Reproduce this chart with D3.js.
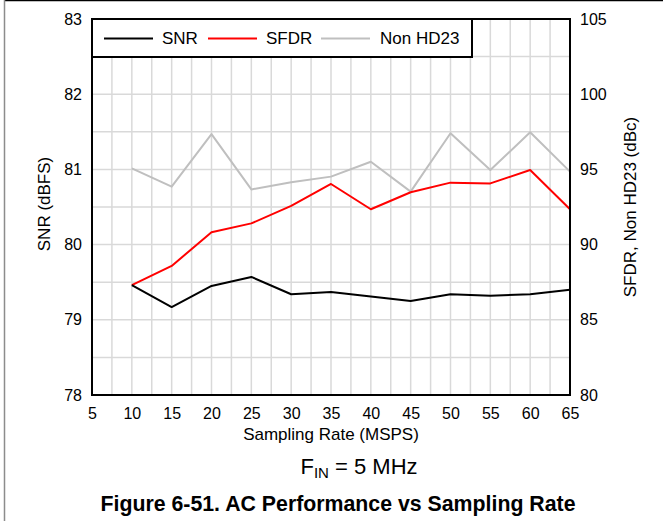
<!DOCTYPE html>
<html>
<head>
<meta charset="utf-8">
<script src="https://cdn.jsdelivr.net/npm/d3@7"></script>
<style>
  html, body { margin: 0; padding: 0; background: #fff; }
  svg { display: block; font-family: "Liberation Sans", Arial, sans-serif; }
</style>
</head>
<body>
<svg id="chart" width="663" height="521"></svg>
<script>
// Sampling rate (MSPS)
const rates = [10, 15, 20, 25, 30, 35, 40, 45, 50, 55, 60, 65];
// SNR (dBFS), left axis
const snr = [79.46, 79.17, 79.45, 79.57, 79.34, 79.37, 79.31, 79.25, 79.34, 79.32, 79.34, 79.40];
// SFDR (dBc), right axis
const sfdr = [87.3, 88.58, 90.82, 91.41, 92.57, 94.03, 92.35, 93.48, 94.12, 94.07, 94.96, 92.35];
// Non HD23 (dBc), right axis
const nonHd23 = [95.07, 93.85, 97.35, 93.67, 94.14, 94.52, 95.51, 93.52, 97.4, 94.96, 97.47, 94.85];

const xTicks = [5, 10, 15, 20, 25, 30, 35, 40, 45, 50, 55, 60, 65];
const leftTicks = [78, 79, 80, 81, 82, 83];
const rightTicks = [80, 85, 90, 95, 100, 105];

const seriesNames = ["SNR", "SFDR", "Non HD23"];
const seriesColors = ["#000000", "#ff0000", "#bfbfbf"];

const svg = d3.select("#chart");
const plot = { left: 92, right: 570, top: 19, bottom: 395 };

const x = d3.scaleLinear().domain([5, 65]).range([plot.left, plot.right]);
const yL = d3.scaleLinear().domain([78, 83]).range([plot.bottom, plot.top]);
const yR = d3.scaleLinear().domain([80, 105]).range([plot.bottom, plot.top]);

// page frame
svg.append("line").attr("x1", 4).attr("x2", 663).attr("y1", 0.5).attr("y2", 0.5)
  .attr("stroke", "#000").attr("stroke-width", 1.5);
svg.append("line").attr("x1", 4.5).attr("x2", 4.5).attr("y1", 0).attr("y2", 521)
  .attr("stroke", "#8c8c8c").attr("stroke-width", 1.5);

// grid
const grid = svg.append("g").attr("stroke", "#d9d9d9").attr("stroke-width", 1.5);
d3.range(7.5, 65, 2.5).forEach(v => {
  grid.append("line").attr("x1", x(v)).attr("x2", x(v))
    .attr("y1", plot.top).attr("y2", plot.bottom);
});
d3.range(78.5, 83, 0.5).forEach(v => {
  grid.append("line").attr("x1", plot.left).attr("x2", plot.right)
    .attr("y1", yL(v)).attr("y2", yL(v));
});

// series
const lineL = d3.line().x((d, i) => x(rates[i])).y(d => yL(d));
const lineR = d3.line().x((d, i) => x(rates[i])).y(d => yR(d));
const paths = [
  { data: nonHd23, gen: lineR, color: seriesColors[2] },
  { data: sfdr, gen: lineR, color: seriesColors[1] },
  { data: snr, gen: lineL, color: seriesColors[0] }
];
paths.forEach(p => {
  svg.append("path").attr("d", p.gen(p.data))
    .attr("fill", "none").attr("stroke", p.color)
    .attr("stroke-width", 2).attr("stroke-linejoin", "round");
});

// axes
const tickFont = 16;
const labelFont = 17;
const styleTicks = sel => sel.selectAll("text")
  .attr("font-size", tickFont)
  .attr("font-family", "Liberation Sans, Arial, sans-serif")
  .attr("fill", "#000");

const xAxis = d3.axisBottom(x).tickValues(xTicks).tickSize(0).tickPadding(13);
svg.append("g").attr("transform", `translate(0,${plot.bottom})`).call(xAxis)
  .call(g => g.select(".domain").remove()).call(styleTicks);

const lAxis = d3.axisLeft(yL).tickValues(leftTicks).tickSize(0).tickPadding(10).tickFormat(d3.format("d"));
svg.append("g").attr("transform", `translate(${plot.left},0)`).call(lAxis)
  .call(g => g.select(".domain").remove()).call(styleTicks);

const rAxis = d3.axisRight(yR).tickValues(rightTicks).tickSize(0).tickPadding(10).tickFormat(d3.format("d"));
svg.append("g").attr("transform", `translate(${plot.right},0)`).call(rAxis)
  .call(g => g.select(".domain").remove()).call(styleTicks);

// plot frame
svg.append("rect").attr("x", plot.left).attr("y", plot.top)
  .attr("width", plot.right - plot.left).attr("height", plot.bottom - plot.top)
  .attr("fill", "none").attr("stroke", "#000").attr("stroke-width", 2);

// legend
const legend = svg.append("g");
legend.append("rect").attr("x", plot.left).attr("y", plot.top)
  .attr("width", 380).attr("height", 38)
  .attr("fill", "#fff").attr("stroke", "#000").attr("stroke-width", 2);
const legendItems = [
  { x0: 104, tx: 162 },
  { x0: 208, tx: 266 },
  { x0: 321, tx: 380 }
];
legendItems.forEach((it, i) => {
  legend.append("line").attr("x1", it.x0).attr("x2", it.x0 + 49)
    .attr("y1", 38.5).attr("y2", 38.5)
    .attr("stroke", seriesColors[i]).attr("stroke-width", 2);
  legend.append("text").attr("x", it.tx).attr("y", 44)
    .attr("font-size", labelFont).text(seriesNames[i]);
});

// axis titles
svg.append("text").attr("x", 331).attr("y", 440)
  .attr("text-anchor", "middle").attr("font-size", labelFont).text("Sampling Rate (MSPS)");
svg.append("text").attr("transform", "translate(50,204) rotate(-90)")
  .attr("text-anchor", "middle").attr("font-size", labelFont).text("SNR (dBFS)");
svg.append("text").attr("transform", "translate(636,207) rotate(-90)")
  .attr("text-anchor", "middle").attr("font-size", labelFont).text("SFDR, Non HD23 (dBc)");

// test condition
const cond = svg.append("text").attr("x", 359).attr("y", 474)
  .attr("text-anchor", "middle").attr("font-size", 22);
cond.append("tspan").text("F");
cond.append("tspan").attr("font-size", 15).attr("dy", 4).text("IN");
cond.append("tspan").attr("dy", -4).text(" = 5 MHz");

// caption
svg.append("text").attr("x", 338).attr("y", 511)
  .attr("text-anchor", "middle").attr("font-size", 21.3).attr("font-weight", "bold")
  .text("Figure 6-51. AC Performance vs Sampling Rate");
</script>
</body>
</html>
